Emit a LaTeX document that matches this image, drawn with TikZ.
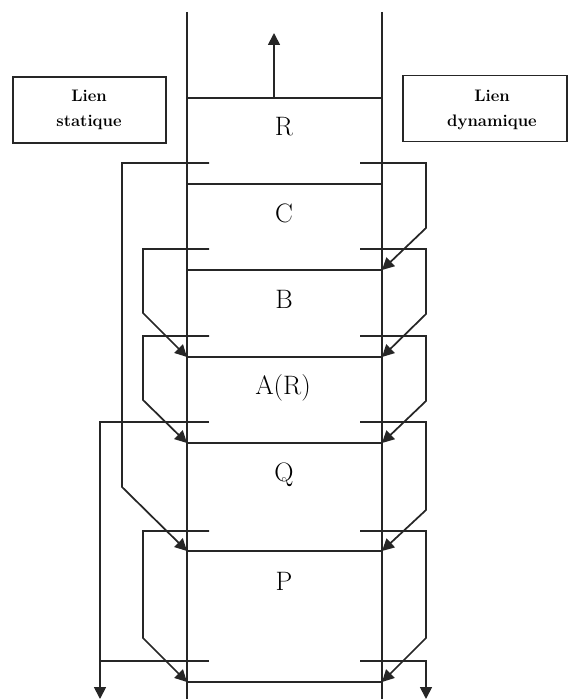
\documentclass[tikz,border=0pt]{standalone}
\usepackage{fontspec}
\usetikzlibrary{arrows.meta}
\begin{document}
\begin{tikzpicture}[x=0.75pt,y=-0.75pt,line width=1.3pt,
  ln/.style={draw=black!85},
  arr/.style={ln,-{Triangle[length=9pt,width=9pt]}},
  lbl/.style={font=\fontsize{20}{24}\selectfont},
  boxtxt/.style={align=center,font=\fontsize{12.5}{18.5}\selectfont\bfseries},
  infobox/.style={ln,minimum height=49.5pt,inner sep=0pt}]
\useasboundingbox (0,0) rectangle (568,699);
% stack walls
\draw[ln] (187,12) -- (187,699);
\draw[ln] (382,12) -- (382,699);
% frame separators
\foreach \y in {98,184,270,357,443,551,682} \draw[ln] (187,\y) -- (382,\y);
% frame labels
\node[lbl] (fR) at (284,127) {R};
\node[lbl] (fC) at (284,213) {C};
\node[lbl] (fB) at (284,299) {B};
\node[lbl] (fA) at (283,388) {A(R)};
\node[lbl] (fQ) at (284,475) {Q};
\node[lbl] (fP) at (284,581) {P};
% top arrow
\coordinate (topS) at (274,98);
\coordinate (topE) at (274,33);
\draw[arr] (topS) -- (topE);
% boxes
\node[infobox,minimum width=114.75pt] (stat) at (89.5,110) {};
\node[boxtxt] (stattxt) at (89,110) {Lien\\statique};
\node[infobox,minimum width=123pt] (dyn) at (485,108.5) {};
\node[boxtxt] (dyntxt) at (492,110) {Lien\\dynamique};
% static links (left)
\draw[arr] (209,163) -- (122,163) -- (122,487) -- (187,551);
\draw[arr] (209,249) -- (143,249) -- (143,313) -- (187,357);
\draw[arr] (209,336) -- (143,336) -- (143,400) -- (187,443);
\draw[arr] (209,422) -- (100,422) -- (100,699);
\draw[arr] (209,531) -- (143,531) -- (143,638) -- (187,682);
\draw[ln] (209,661) -- (100,661);
% dynamic links (right)
\draw[arr] (360,163) -- (426,163) -- (426,228) -- (382,270);
\draw[arr] (360,249) -- (426,249) -- (426,314) -- (382,357);
\draw[arr] (360,336) -- (426,336) -- (426,401) -- (382,443);
\draw[arr] (360,422) -- (426,422) -- (426,510) -- (382,551);
\draw[arr] (360,531) -- (426,531) -- (426,638) -- (382,682);
\draw[arr] (360,661) -- (426,661) -- (426,699);
\end{tikzpicture}
\end{document}
